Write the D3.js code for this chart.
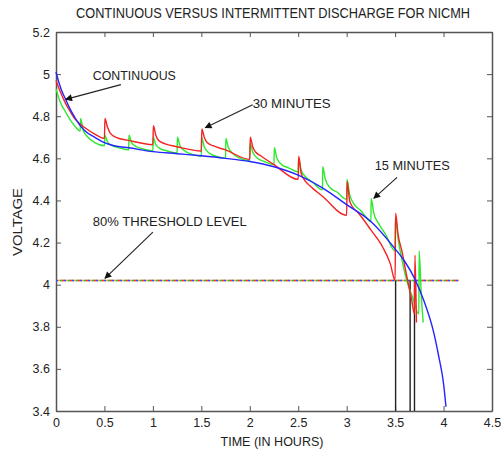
<!DOCTYPE html>
<html>
<head>
<meta charset="utf-8">
<script src="https://cdn.jsdelivr.net/npm/d3@7"></script>
<style>
  body { margin: 0; background: #fff; }
  svg text { font-family: "Liberation Sans Narrow", "Arial Narrow", "Liberation Sans", sans-serif; fill: #222; }
</style>
</head>
<body>
<svg id="chart" width="501" height="453"></svg>
<script>
// axis ticks
const xTicks = [0, 0.5, 1, 1.5, 2, 2.5, 3, 3.5, 4, 4.5];
const yTicks = [3.4, 3.6, 3.8, 4, 4.2, 4.4, 4.6, 4.8, 5, 5.2];

// continuous discharge (blue)
const contT = [0, 0.03, 0.06, 0.1, 0.15, 0.2, 0.25, 0.3, 0.4, 0.5, 0.6, 0.75, 1.0, 1.25, 1.5, 1.75, 2.0, 2.25, 2.5, 2.75, 3.0, 3.25, 3.5, 3.6, 3.7, 3.8, 3.9, 3.95, 4.0, 4.025];
const contV = [5.01, 4.96, 4.92, 4.88, 4.83, 4.79, 4.755, 4.73, 4.70, 4.675, 4.66, 4.65, 4.632, 4.622, 4.612, 4.60, 4.585, 4.56, 4.52, 4.46, 4.38, 4.30, 4.17, 4.11, 4.03, 3.92, 3.77, 3.66, 3.53, 3.42];

// 30 minute intermittent (red)
const min30T = [0, 0.05, 0.1, 0.15, 0.2, 0.3, 0.4, 0.5,
  0.505, 0.53, 0.56, 0.62, 0.75, 1.0,
  1.005, 1.03, 1.06, 1.12, 1.25, 1.5,
  1.505, 1.53, 1.56, 1.62, 1.75, 2.0,
  2.005, 2.03, 2.06, 2.12, 2.25, 2.5,
  2.505, 2.53, 2.56, 2.62, 2.75, 3.0,
  3.005, 3.03, 3.06, 3.12, 3.25, 3.37, 3.45, 3.5,
  3.505, 3.53, 3.57, 3.62, 3.67, 3.70,
  3.705, 3.72];
const min30V = [4.97, 4.91, 4.86, 4.82, 4.785, 4.745, 4.715, 4.695,
  4.79, 4.75, 4.72, 4.70, 4.685, 4.665,
  4.755, 4.71, 4.685, 4.67, 4.655, 4.635,
  4.74, 4.70, 4.675, 4.66, 4.64, 4.595,
  4.70, 4.655, 4.63, 4.61, 4.57, 4.50,
  4.61, 4.53, 4.50, 4.47, 4.42, 4.33,
  4.49, 4.40, 4.37, 4.34, 4.26, 4.18, 4.10, 4.02,
  4.34, 4.24, 4.16, 4.04, 3.93, 3.86,
  4.14, 3.82];

// 15 minute intermittent (green)
const min15T = [0, 0.05, 0.1, 0.15, 0.2, 0.25,
  0.253, 0.28, 0.33, 0.4, 0.5,
  0.503, 0.53, 0.58, 0.65, 0.75,
  0.753, 0.78, 0.83, 0.9, 1.0,
  1.003, 1.03, 1.08, 1.15, 1.25,
  1.253, 1.28, 1.33, 1.4, 1.5,
  1.503, 1.53, 1.58, 1.65, 1.75,
  1.753, 1.78, 1.83, 1.9, 2.0,
  2.003, 2.03, 2.08, 2.15, 2.25,
  2.253, 2.28, 2.33, 2.4, 2.5,
  2.503, 2.53, 2.58, 2.65, 2.75,
  2.753, 2.78, 2.83, 2.9, 3.0,
  3.003, 3.03, 3.08, 3.15, 3.25,
  3.253, 3.28, 3.33, 3.4, 3.5,
  3.503, 3.53, 3.57, 3.62, 3.68, 3.745,
  3.748, 3.77, 3.79];
const min15V = [4.93, 4.86, 4.82, 4.78, 4.75, 4.73,
  4.79, 4.735, 4.70, 4.675, 4.66,
  4.71, 4.68, 4.66, 4.65, 4.64,
  4.71, 4.675, 4.655, 4.645, 4.635,
  4.70, 4.665, 4.645, 4.635, 4.625,
  4.70, 4.66, 4.635, 4.62, 4.61,
  4.70, 4.655, 4.625, 4.61, 4.60,
  4.695, 4.65, 4.62, 4.60, 4.59,
  4.67, 4.63, 4.60, 4.585, 4.57,
  4.65, 4.60, 4.57, 4.555, 4.535,
  4.60, 4.545, 4.51, 4.485, 4.45,
  4.56, 4.50, 4.46, 4.44, 4.405,
  4.50, 4.43, 4.38, 4.35, 4.30,
  4.41, 4.34, 4.29, 4.24, 4.16,
  4.32, 4.22, 4.12, 4.02, 3.94, 3.86,
  4.16, 3.95, 3.82];

// 80% threshold and cut-off times
const thresholdV = 4.02;
const thresholdEnd = 4.16;
const cutoffT = [3.505, 3.655, 3.70];

const svg = d3.select("#chart");
const x = d3.scaleLinear().domain([0, 4.5]).range([56, 492]);
const y = d3.scaleLinear().domain([3.4, 5.2]).range([411, 32]);

// arrow head
svg.append("defs").append("marker")
  .attr("id", "head")
  .attr("viewBox", "0 0 10 10")
  .attr("refX", 9).attr("refY", 5)
  .attr("markerWidth", 9).attr("markerHeight", 7)
  .attr("markerUnits", "userSpaceOnUse")
  .attr("orient", "auto")
  .append("path").attr("d", "M0,0L10,5L0,10z").attr("fill", "#111");

// axes, MATLAB style inward ticks on all sides
const fmt = (d) => String(d);
svg.append("g").attr("transform", "translate(0,411)")
  .call(d3.axisBottom(x).tickValues(xTicks).tickFormat(fmt).tickSizeInner(-5).tickSizeOuter(0).tickPadding(7));
svg.append("g").attr("transform", "translate(0,32)")
  .call(d3.axisTop(x).tickValues(xTicks).tickFormat("").tickSizeInner(-5).tickSizeOuter(0));
svg.append("g").attr("transform", "translate(56,0)")
  .call(d3.axisLeft(y).tickValues(yTicks).tickFormat(fmt).tickSizeInner(-5).tickSizeOuter(0).tickPadding(6));
svg.append("g").attr("transform", "translate(492,0)")
  .call(d3.axisRight(y).tickValues(yTicks).tickFormat("").tickSizeInner(-5).tickSizeOuter(0));
svg.selectAll(".domain").attr("stroke", "#555").attr("stroke-width", 1.5);
svg.selectAll(".tick line").attr("stroke", "#555");
svg.selectAll(".tick text").style("font-size", "12.5px").attr("fill", "#222");

// threshold line, dotted in several colours
const thr = svg.append("g");
const thrY = y(thresholdV);
[["#e8a040", null, 0], ["#3050ff", "2 6", 0], ["#ff3030", "2 6", 2], ["#30c030", "2 6", 4]].forEach(([c, dash, off]) => {
  thr.append("line")
    .attr("x1", x(0)).attr("x2", x(thresholdEnd))
    .attr("y1", thrY).attr("y2", thrY)
    .attr("stroke", c).attr("stroke-width", 1.5)
    .attr("stroke-dasharray", dash).attr("stroke-dashoffset", off);
});

// cut-off verticals
svg.selectAll(".cut").data(cutoffT).enter().append("line")
  .attr("x1", (d) => x(d)).attr("x2", (d) => x(d))
  .attr("y1", thrY).attr("y2", y(3.4))
  .attr("stroke", "#222").attr("stroke-width", 1.4);

const series = [
  { t: min15T, v: min15V, color: "#2ee82e" },
  { t: min30T, v: min30V, color: "#f52222" },
  { t: contT, v: contV, color: "#2424ff" },
];
series.forEach((s) => {
  svg.append("path")
    .datum(d3.zip(s.t, s.v))
    .attr("d", d3.line().x((d) => x(d[0])).y((d) => y(d[1])).curve(d3.curveMonotoneX))
    .attr("fill", "none")
    .attr("stroke", s.color)
    .attr("stroke-width", 1.4);
});

// annotations (w = rendered text width)
const notes = [
  { text: "CONTINUOUS", tx: 0.38, ty: 4.97, w: 83, from: [0.67, 4.95], to: [0.10, 4.88] },
  { text: "30 MINUTES", tx: 2.03, ty: 4.84, w: 78, from: [2.03, 4.855], to: [1.54, 4.745] },
  { text: "15 MINUTES", tx: 3.29, ty: 4.545, w: 75, from: [3.52, 4.51], to: [3.28, 4.41] },
  { text: "80% THRESHOLD LEVEL", tx: 0.38, ty: 4.28, w: 154, from: [1.0, 4.25], to: [0.505, 4.03] },
];
notes.forEach((n) => {
  svg.append("text").attr("x", x(n.tx)).attr("y", y(n.ty))
    .attr("textLength", n.w).attr("lengthAdjust", "spacingAndGlyphs")
    .style("font-size", "13.5px").text(n.text);
  svg.append("line")
    .attr("x1", x(n.from[0])).attr("y1", y(n.from[1]))
    .attr("x2", x(n.to[0])).attr("y2", y(n.to[1]))
    .attr("stroke", "#222").attr("stroke-width", 1.1)
    .attr("marker-end", "url(#head)");
});

// titles
svg.append("text").attr("x", 273).attr("y", 18).attr("text-anchor", "middle")
  .attr("textLength", 394).attr("lengthAdjust", "spacingAndGlyphs")
  .style("font-size", "14px").text("CONTINUOUS VERSUS INTERMITTENT DISCHARGE FOR NICMH");
svg.append("text").attr("x", 272).attr("y", 446).attr("text-anchor", "middle")
  .attr("textLength", 103).attr("lengthAdjust", "spacingAndGlyphs")
  .style("font-size", "13.5px").text("TIME (IN HOURS)");
svg.append("text").attr("transform", "translate(22,222) rotate(-90)").attr("text-anchor", "middle")
  .attr("textLength", 68).attr("lengthAdjust", "spacingAndGlyphs")
  .style("font-size", "13.5px").text("VOLTAGE");
</script>
</body>
</html>
